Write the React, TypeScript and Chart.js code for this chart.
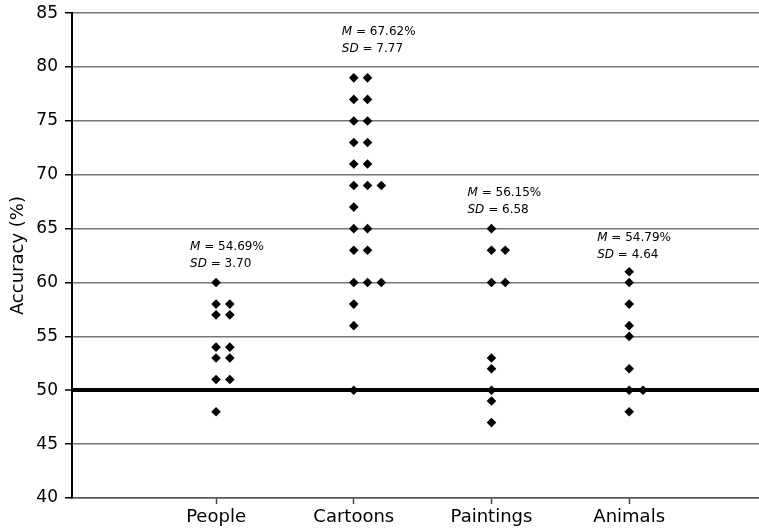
import React, { useEffect, useRef } from 'react';
import { Chart, registerables } from 'chart.js';

Chart.register(...registerables);

const categories = ['People', 'Cartoons', 'Paintings', 'Animals'];
const people = [60, 58, 58, 57, 57, 54, 54, 53, 53, 51, 51, 48];
const cartoons = [79, 79, 77, 77, 75, 75, 73, 73, 71, 71, 69, 69, 69, 67, 65, 65, 63, 63, 60, 60, 60, 58, 56, 50];
const paintings = [65, 63, 63, 60, 60, 53, 52, 50, 49, 47];
const animals = [61, 60, 58, 56, 55, 52, 50, 50, 48];
const means = ['54.69%', '67.62%', '56.15%', '54.79%'];
const sds = ['3.70', '7.77', '6.58', '4.64'];
const yTicks = [40, 45, 50, 55, 60, 65, 70, 75, 80, 85];
const chanceLevel = 50;

// annotation anchors (y in data units, x offset in px from category centre)
const annotY = [63.3, 83.3, 68.3, 64.1];
const annotDx = [-26, -12, -24, -32];

const FONT = '"DejaVu Sans", Verdana, sans-serif';

function toPoints(values: number[], catIndex: number) {
  const seen: Record<number, number> = {};
  return values.map((v) => {
    const k = seen[v] || 0;
    seen[v] = k + 1;
    return { x: catIndex + 1 + k * 0.1, y: v };
  });
}

const annotPlugin = {
  id: 'annot',
  afterDatasetsDraw(chart: any) {
    const { ctx, scales } = chart;
    const xs = scales.x;
    const ys = scales.y;
    ctx.save();
    ctx.fillStyle = '#000';
    ctx.textBaseline = 'middle';
    ctx.textAlign = 'left';
    categories.forEach((_, i) => {
      const x0 = xs.getPixelForValue(i + 1) + annotDx[i];
      const y0 = ys.getPixelForValue(annotY[i]);
      const lines: [string, string][] = [
        ['M', ' = ' + means[i]],
        ['SD', ' = ' + sds[i]],
      ];
      lines.forEach(([it, rest], j) => {
        const y = y0 + j * 17;
        ctx.font = 'italic 12px ' + FONT;
        ctx.fillText(it, x0, y);
        const w = ctx.measureText(it).width;
        ctx.font = '12px ' + FONT;
        ctx.fillText(rest, x0 + w, y);
      });
    });
    ctx.restore();
  },
};

export default function App() {
  const ref = useRef<HTMLCanvasElement>(null);
  useEffect(() => {
    if (!ref.current) return;
    Chart.defaults.font.family = FONT;
    const series = [people, cartoons, paintings, animals];
    const chart = new Chart(ref.current, {
      type: 'scatter',
      data: {
        datasets: series.map((s, i) => ({
          label: categories[i],
          data: toPoints(s, i),
          pointStyle: 'rectRot',
          pointRadius: 4.8,
          pointHoverRadius: 4.8,
          backgroundColor: '#000',
          borderColor: '#000',
          borderWidth: 0,
        })),
      },
      options: {
        responsive: false,
        animation: false,
        events: [],
        layout: { padding: { top: 10, right: 0, left: 0, bottom: 0 } },
        plugins: {
          legend: { display: false },
          tooltip: { enabled: false },
        },
        scales: {
          x: {
            type: 'linear',
            min: -0.046,
            max: 4.944,
            afterBuildTicks: (scale: any) => {
              scale.ticks = categories.map((_, i) => ({ value: i + 1 }));
            },
            afterFit: (scale: any) => {
              scale.height = 31;
            },
            ticks: {
              autoSkip: false,
              maxRotation: 0,
              padding: 3,
              color: '#000',
              font: { size: 18 },
              callback: (v: any) => categories[Math.round(Number(v)) - 1] ?? '',
            },
            grid: {
              drawOnChartArea: false,
              drawTicks: true,
              tickLength: 6,
              tickColor: '#444',
              tickWidth: 1.5,
            },
            border: { display: true, color: '#555', width: 1.5 },
          },
          y: {
            type: 'linear',
            min: 40,
            max: 85,
            afterBuildTicks: (scale: any) => {
              scale.ticks = yTicks.map((v) => ({ value: v }));
            },
            afterFit: (scale: any) => {
              scale.width = 72;
            },
            ticks: {
              padding: 7,
              color: '#000',
              font: { size: 17 },
            },
            title: {
              display: true,
              text: 'Accuracy (%)',
              color: '#000',
              font: { size: 18 },
              padding: { top: 8, bottom: 0 },
            },
            grid: {
              color: (c: any) => (c.tick && c.tick.value === chanceLevel ? '#000' : '#777'),
              lineWidth: (c: any) => (c.tick && c.tick.value === chanceLevel ? 4 : 1.5),
              tickColor: '#000',
              tickWidth: 1.5,
              tickLength: 7,
              drawTicks: true,
            },
            border: { display: true, color: '#000', width: 2 },
          },
        },
      },
      plugins: [annotPlugin],
    });
    return () => chart.destroy();
  }, []);
  return (
    <div style={{ position: 'absolute', left: 0, top: 0, width: 759, height: 529, overflow: 'hidden', background: '#fff' }}>
      <canvas ref={ref} width={764} height={533} style={{ position: 'absolute', left: 0, top: -4 }} />
    </div>
  );
}
